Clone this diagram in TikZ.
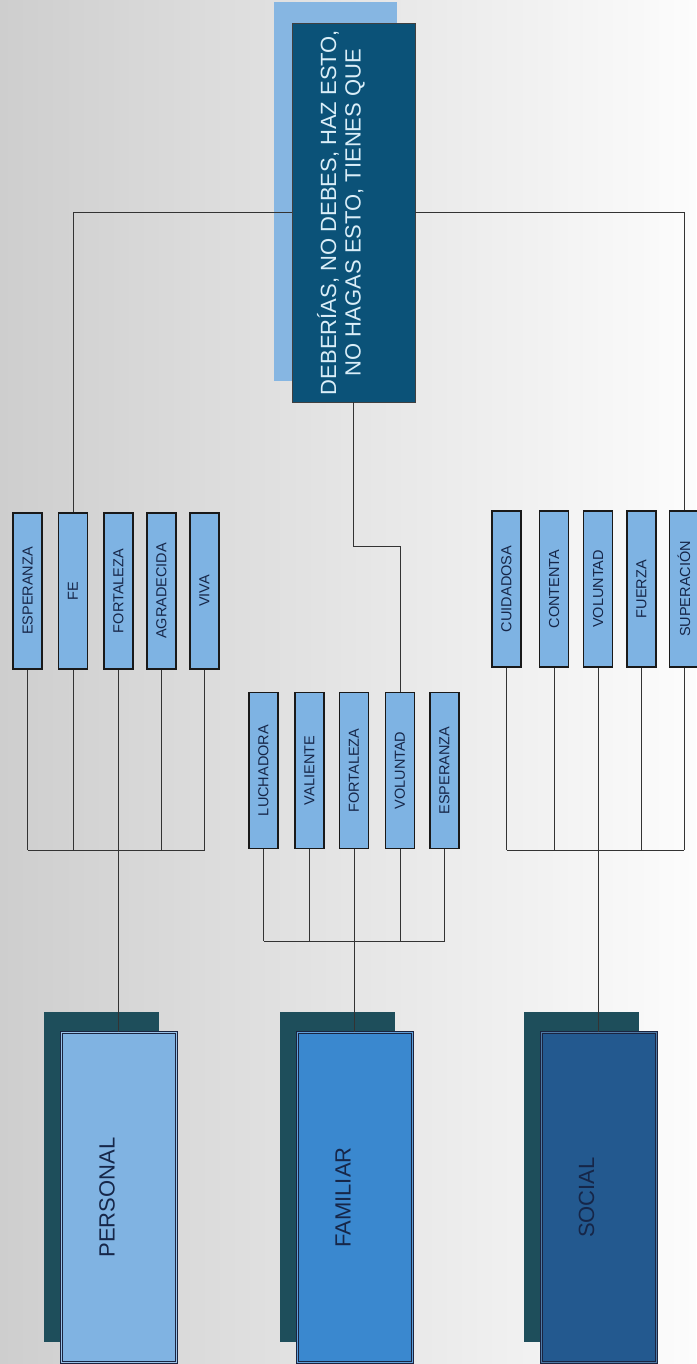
\documentclass[tikz,border=0pt]{standalone}
\usepackage{graphicx}
\usepackage{fontspec}
\setmainfont{Liberation Sans}
\usetikzlibrary{positioning,shadows}
\definecolor{bgleft}{RGB}{206,206,206}
\definecolor{bgright}{RGB}{252,252,252}
\definecolor{rootblue}{RGB}{11,82,120}
\definecolor{rootshade}{RGB}{134,182,226}
\definecolor{roottext}{RGB}{218,238,248}
\definecolor{leafblue}{RGB}{126,179,227}
\definecolor{ink}{RGB}{22,38,72}
\definecolor{catshade}{RGB}{30,78,91}
\definecolor{persblue}{RGB}{128,179,226}
\definecolor{famblue}{RGB}{58,136,207}
\definecolor{socblue}{RGB}{35,89,143}
\definecolor{rim}{RGB}{26,36,64}
\newcommand{\vtxt}[1]{\rotatebox{90}{#1}}
\tikzset{
  x=1pt,y=-1pt,
  link/.style={draw=black!80,line width=0.8pt},
  leaf/.style={draw=black!90,line width=1.6pt,fill=leafblue,inner sep=0pt,
    minimum width=29pt,minimum height=156pt,
    font=\fontsize{14.5}{16}\selectfont,text=ink},
  rootbox/.style={draw=black!75,line width=0.8pt,fill=rootblue,
    minimum width=123pt,minimum height=379pt,
    general shadow={fill=rootshade,shadow xshift=-18pt,shadow yshift=21pt}},
  rootlabel/.style={rotate=90,align=center,text=roottext,
    font=\fontsize{22}{24.5}\selectfont},
  catbox/.style={draw=rim,line width=0.8pt,double=#1!80!white,double distance=1.6pt,
    fill=#1,minimum width=115pt,minimum height=330pt,
    general shadow={fill=catshade,shadow xshift=-18pt,shadow yshift=21pt}},
  catlabel/.style={rotate=90,text=ink,font=\fontsize{22}{24}\selectfont},
}

\begin{document}
\begin{tikzpicture}
  \useasboundingbox (0,0) rectangle (696,1364);
  \shade[left color=bgleft,right color=bgright] (0,0) rectangle (696,1364);

  % top box
  \node[rootbox] (root) at (353.5,212.5) {};
  \node[rootlabel] (rootlbl) at ([xshift=-12.5pt]root.center)
    {DEBERÍAS, NO DEBES, HAZ ESTO,\\NO HAGAS ESTO, TIENES QUE};

  % three groups of words
  \foreach \n/\x/\t in {pEsp/27.7/ESPERANZA,pFe/73/FE,pFor/118.5/FORTALEZA,
                        pAgr/161.5/AGRADECIDA,pViv/204.5/VIVA}
    \node[leaf] (\n) at (\x,591) {\vtxt{\t}};
  \foreach \n/\x/\t in {fLuc/263.5/LUCHADORA,fVal/309.5/VALIENTE,fFor/354/FORTALEZA,
                        fVol/400/VOLUNTAD,fEsp/444.5/ESPERANZA}
    \node[leaf] (\n) at (\x,770.5) {\vtxt{\t}};
  \foreach \n/\x/\t in {sCui/506.5/CUIDADOSA,sCon/554/CONTENTA,sVol/598/VOLUNTAD,
                        sFue/641.5/FUERZA,sSup/684/SUPERACIÓN}
    \node[leaf] (\n) at (\x,589) {\vtxt{\t}};

  % bottom boxes
  \node[catbox=persblue] (pers) at (119,1197.5) {};
  \node[catbox=famblue] (fam) at (355,1197.5) {};
  \node[catbox=socblue] (soc) at (599,1197.5) {};
  \node[catlabel] (persLbl) at ([xshift=-12pt]pers.center) {PERSONAL};
  \node[catlabel] (famLbl) at ([xshift=-12pt]fam.center) {FAMILIAR};
  \node[catlabel] (socLbl) at ([xshift=-12.5pt]soc.center) {SOCIAL};

  % connectors
  \draw[link] (root.west) -| (pFe.north);
  \draw[link] (root.east) -| (sSup.north);
  \draw[link] (root.south) -- ++(0,144) -| (fVol.north);

  \coordinate (pbar) at (0,850);
  \coordinate (fbar) at (0,941);
  \coordinate (sbar) at (0,850);
  \foreach \n in {pEsp,pFe,pFor,pAgr,pViv}
    \draw[link] (\n.south) -- (\n.south |- pbar);
  \foreach \n in {fLuc,fVal,fFor,fVol,fEsp}
    \draw[link] (\n.south) -- (\n.south |- fbar);
  \foreach \n in {sCui,sCon,sVol,sFue,sSup}
    \draw[link] (\n.south) -- (\n.south |- sbar);
  \draw[link] (pEsp.south |- pbar) -- (pViv.south |- pbar);
  \draw[link] (fLuc.south |- fbar) -- (fEsp.south |- fbar);
  \draw[link] (sCui.south |- sbar) -- (sSup.south |- sbar);
  \draw[link] (pFor.south |- pbar) -- (pFor.south |- pers.north);
  \draw[link] (fFor.south |- fbar) -- (fFor.south |- fam.north);
  \draw[link] (sVol.south |- sbar) -- (sVol.south |- soc.north);
\end{tikzpicture}
\end{document}
